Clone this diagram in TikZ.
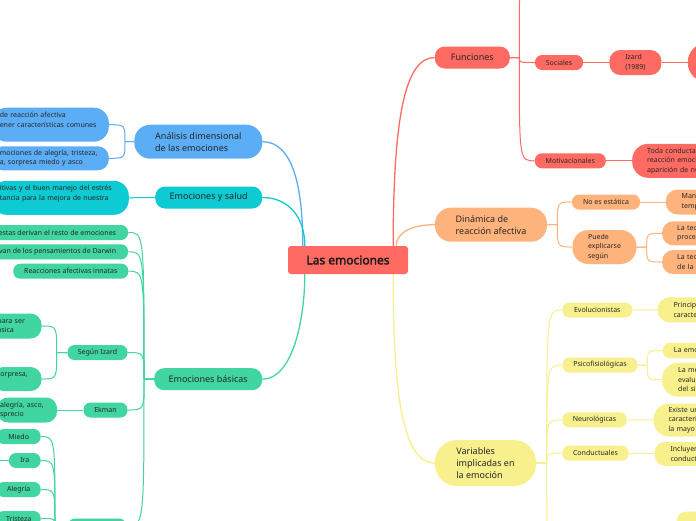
\documentclass[tikz,border=0pt]{standalone}
\usepackage{fontspec}
\setmainfont{Noto Sans}
\newfontfamily\rootfont{Noto Sans}[FakeBold=2.2]
\usepackage{xcolor}
\usepackage{tikz}
\usetikzlibrary{positioning, backgrounds}

\definecolor{redfill}{HTML}{FF6B63}
\definecolor{bluefill}{HTML}{5BADF6}
\definecolor{cyanfill}{HTML}{0DCAD3}
\definecolor{greenfill}{HTML}{40D5A1}
\definecolor{orangefill}{HTML}{FFB37C}
\definecolor{yellowfill}{HTML}{F8F08D}

\begin{document}
\begin{tikzpicture}[
    x=1pt, y=-1pt,
    rootbox/.style={rectangle, fill=redfill, rounded corners=3pt,
                    minimum width=120pt, minimum height=28pt,
                    font=\rootfont\fontsize{12}{14}\selectfont, text=black!90},
    topic/.style={rectangle, rounded corners=10pt, minimum height=21pt,
                  inner sep=2pt, align=left,
                  font=\fontsize{9}{12}\selectfont, text=black!85},
    leaf/.style={rectangle, rounded corners=7pt, minimum height=15pt,
                 inner xsep=8pt, inner ysep=1pt, align=left,
                 font=\fontsize{7}{9.5}\selectfont, text=black!85},
    cutleft/.style={leaf, anchor=east},
    cutright/.style={leaf, anchor=west, text width=60pt},
    mainlink/.style={line width=1.3pt},
    link/.style={line width=1pt},
]
\useasboundingbox (0,0) rectangle (696,520);

% Root
\node[rootbox] (root) at (348,260) {Las emociones};

% Left: Analisis dimensional
\node[topic, fill=bluefill, minimum width=128pt, minimum height=34pt, rounded corners=16pt] (ana) at (198.3,141.7) {Análisis dimensional\\de las emociones};
\node[cutleft, fill=bluefill, text width=101pt, minimum height=34pt, rounded corners=15pt] (ana1) at (109,124.7) {de reacción afectiva\\ener características comunes\\\mbox{}};
\node[cutleft, fill=bluefill, text width=101pt, minimum height=24pt, rounded corners=11pt] (ana2) at (109,158.3) {mociones de alegría, tristeza,\\a, sorpresa miedo y asco};

% Left: Emociones y salud
\node[topic, fill=cyanfill, minimum width=107pt, minimum height=22pt] (ey) at (208.7,197.5) {Emociones y salud};
\node[cutleft, fill=cyanfill, text width=121pt, minimum height=34pt, rounded corners=15pt] (eyc) at (129,197.8) {itivas y el buen manejo del estrés\\tancia para la mejora de nuestra\\\mbox{}};

% Left: Emociones basicas
\node[topic, fill=greenfill, minimum width=108pt, minimum height=22pt] (eb) at (208.2,379.2) {Emociones básicas};
\node[cutleft, fill=greenfill, inner xsep=12pt] (b1) at (128.3,232.5) {estas derivan el resto de emociones};
\node[cutleft, fill=greenfill, inner xsep=12pt] (b2) at (128.3,251.8) {van de los pensamientos de Darwin};
\node[leaf, fill=greenfill, minimum width=115pt] (b3) at (70.8,271.2) {Reacciones afectivas innatas};
\node[leaf, fill=greenfill, minimum width=60pt] (izl) at (97.5,352.5) {Según Izard};
\node[leaf, fill=greenfill, minimum width=44pt] (ek) at (105.5,410) {Ekman};
\node[leaf, fill=greenfill, minimum width=58pt] (ebx) at (97,526) {};
\node[cutleft, fill=greenfill, text width=36pt, minimum height=25pt, rounded corners=11pt] (iz1) at (41.7,326) {para ser\\ásica};
\node[cutleft, fill=greenfill, text width=33pt, minimum height=24pt, rounded corners=11pt] (iz2) at (41.7,379) {orpresa,\\\mbox{}};
\node[cutleft, fill=greenfill, inner xsep=3pt, text width=54pt, minimum height=25pt, rounded corners=11pt] (ekc) at (57.3,410) {alegría, asco,\\sprecio};
\node[leaf, fill=greenfill, minimum width=44pt] (miedo) at (18.7,436.5) {Miedo};
\node[leaf, fill=greenfill, minimum width=31.7pt] (ira) at (24.8,460.5) {Ira};
\node[leaf, fill=greenfill, minimum width=44pt] (alegria) at (18.7,489.5) {Alegría};
\node[leaf, fill=greenfill, minimum width=44pt] (tristeza) at (18.7,518.5) {Tristeza};

% Right: Funciones
\node[topic, fill=redfill, minimum width=75pt, minimum height=22pt] (fun) at (472.3,57.5) {Funciones};
\node[leaf, fill=redfill, minimum width=48pt] (soc) at (559,62.5) {Sociales};
\node[leaf, fill=redfill, minimum width=52pt, minimum height=25pt, rounded corners=11pt, right=26pt of soc] (izd) {Izard\\(1989)};
\node[leaf, fill=redfill, anchor=west, minimum width=60pt, minimum height=39pt, rounded corners=19pt, right=26pt of izd] (big) {};
\node[leaf, fill=redfill, minimum width=71pt] (mot) at (570.3,160.8) {Motivacionales};
\node[cutright, fill=redfill, inner xsep=15pt, minimum height=34pt, rounded corners=16pt, right=26pt of mot] (toda) {Toda conducta\\reacción emoci\\aparición de nu};

% Right: Dinamica de reaccion afectiva
\node[topic, fill=orangefill, minimum width=112pt, minimum height=34pt, rounded corners=16pt] (din) at (491,224.7) {Dinámica de\\reacción afectiva};
\node[leaf, fill=orangefill, minimum width=68pt] (noes) at (606,202) {No es estática};
\node[cutright, fill=orangefill, inner xsep=16pt, minimum height=25pt, rounded corners=12pt] (man) at (665.5,202) {Man\\temp};
\node[leaf, fill=orangefill, minimum width=64pt, minimum height=34pt, rounded corners=16pt] (puede) at (604.5,247) {Puede\\explicarse\\según};
\node[cutright, fill=orangefill, inner xsep=15pt, minimum height=24pt, rounded corners=11pt] (teo1) at (662,233.3) {La teo\\proce};
\node[cutright, fill=orangefill, inner xsep=15pt, minimum height=24pt, rounded corners=11pt] (teo2) at (662,262) {La teo\\de la};

% Right: Variables implicadas en la emocion
\node[topic, fill=yellowfill, minimum width=101pt, minimum height=46pt, rounded corners=22pt] (var) at (485.5,463) {Variables\\implicadas en\\la emoción};
\node[leaf, fill=yellowfill, minimum width=70pt] (evo) at (597.3,310) {Evolucionistas};
\node[cutright, fill=yellowfill, inner xsep=16pt, minimum height=25pt, rounded corners=12pt] (pri) at (657.3,309.8) {Princip\\caracte};
\node[leaf, fill=yellowfill, minimum width=75pt] (psi) at (600,365) {Psicofisiológicas};
\node[cutright, fill=yellowfill, inner xsep=11pt, minimum height=15.5pt] (emo) at (662.7,350.5) {La emo};
\node[cutright, fill=yellowfill, inner xsep=16pt, minimum height=34pt, rounded corners=16pt] (me) at (662,379.7) {La me\\evalu\\del si};
\node[leaf, fill=yellowfill, minimum width=64.4pt] (neu) at (594.5,419.8) {Neurológicas};
\node[cutright, fill=yellowfill, inner xsep=15pt, minimum height=33pt, rounded corners=16pt] (exi) at (653.3,420) {Existe un\\caracterí\\la mayo};
\node[leaf, fill=yellowfill, minimum width=66.4pt] (con) at (595.5,453.2) {Conductuales};
\node[cutright, fill=yellowfill, inner xsep=16pt, minimum height=24pt, rounded corners=11pt] (inc) at (654.3,453.8) {Incluyen\\conduct};
\node[leaf, fill=yellowfill, anchor=west, minimum width=60pt, minimum height=20pt, rounded corners=9pt] (ylast) at (676.7,521.7) {};

% Junctions and branches leaving the picture
\coordinate (jana) at (125,141.7);
\coordinate (jeb) at (144,379.2);
\coordinate (jizl) at (56.7,352.5);
\coordinate (jebx) at (55,526);
\coordinate (ira0) at (-20,460.5);
\coordinate (jfun) at (519.3,57.5);
\coordinate (fun0) at (536,-40);
\coordinate (jdin) at (557.3,224.7);
\coordinate (jpue) at (646.7,247);
\coordinate (jvar) at (546.7,463);
\coordinate (var5) at (562,560);
\coordinate (jpsi) at (647.3,365);

\begin{scope}[on background layer]
\fill[white] (0,0) rectangle (696,520);

% Links from the root
\draw[mainlink, bluefill] (ana.east) .. controls +(30,0) and +(0,-60) .. ([xshift=15pt]root.north west);
\draw[mainlink, cyanfill] (ey.east) .. controls +(25,0) and +(0,-30) .. ([xshift=17pt]root.north west);
\draw[mainlink, greenfill] (eb.east) .. controls +(30,0) and +(0,46) .. ([xshift=17pt]root.south west);
\draw[mainlink, redfill] (fun.west) .. controls +(-30,0) and +(0,-126) .. ([xshift=-15pt]root.north east);
\draw[mainlink, orangefill] (din.west) .. controls +(-25,0) and +(0,-12) .. ([xshift=-12pt]root.north east);
\draw[mainlink, yellowfill] (var.west) .. controls +(-35,0) and +(0,106) .. ([xshift=-15pt]root.south east);

% Analisis dimensional
\draw[link, bluefill] (ana.west) -- (jana) .. controls (jana |- ana1.east) .. (ana1.east);
\draw[link, bluefill] (ana.west) -- (jana) .. controls (jana |- ana2.east) .. (ana2.east);

% Emociones y salud
\draw[link, cyanfill] (ey.west) -- (eyc.east);

% Emociones basicas
\draw[link, greenfill] (eb.west) -- (jeb) .. controls (jeb |- b1.east) .. (b1.east);
\draw[link, greenfill] (eb.west) -- (jeb) .. controls (jeb |- b2.east) .. (b2.east);
\draw[link, greenfill] (eb.west) -- (jeb) .. controls (jeb |- b3.east) .. (b3.east);
\draw[link, greenfill] (eb.west) -- (jeb) .. controls (jeb |- izl.east) .. (izl.east);
\draw[link, greenfill] (eb.west) -- (jeb) .. controls (jeb |- ek.east) .. (ek.east);
\draw[link, greenfill] (eb.west) -- (jeb) .. controls (jeb |- ebx.east) .. (ebx.east);
\draw[link, greenfill] (izl.west) -- (jizl) .. controls (jizl |- iz1.east) .. (iz1.east);
\draw[link, greenfill] (izl.west) -- (jizl) .. controls (jizl |- iz2.east) .. (iz2.east);
\draw[link, greenfill] (ek.west) -- (ekc.east);
\draw[link, greenfill] (ebx.west) -- (jebx) .. controls (jebx |- miedo.east) .. (miedo.east);
\draw[link, greenfill] (ebx.west) -- (jebx) .. controls (jebx |- ira.east) .. (ira.east);
\draw[link, greenfill] (ebx.west) -- (jebx) .. controls (jebx |- alegria.east) .. (alegria.east);
\draw[link, greenfill] (ebx.west) -- (jebx) .. controls (jebx |- tristeza.east) .. (tristeza.east);
\draw[link, greenfill] (ira.west) -- (ira0);

% Funciones
\draw[link, redfill] (fun.east) -- (jfun) .. controls (jfun |- soc.west) .. (soc.west);
\draw[link, redfill] (fun.east) -- (jfun) .. controls (jfun |- mot.west) .. (mot.west);
\draw[link, redfill] (fun.east) -- (jfun) .. controls (jfun |- fun0) .. (fun0);
\draw[link, redfill] (soc) -- (izd);
\draw[link, redfill] (izd) -- (big);
\draw[link, redfill] (mot) -- (toda);

% Dinamica de reaccion afectiva
\draw[link, orangefill] (din.east) -- (jdin) .. controls (jdin |- noes.west) .. (noes.west);
\draw[link, orangefill] (din.east) -- (jdin) .. controls (jdin |- puede.west) .. (puede.west);
\draw[link, orangefill] (noes) -- (man);
\draw[link, orangefill] (puede.east) -- (jpue) .. controls (jpue |- teo1.west) .. (teo1.west);
\draw[link, orangefill] (puede.east) -- (jpue) .. controls (jpue |- teo2.west) .. (teo2.west);

% Variables implicadas en la emocion
\draw[link, yellowfill] (var.east) -- (jvar) .. controls (jvar |- evo.west) .. (evo.west);
\draw[link, yellowfill] (var.east) -- (jvar) .. controls (jvar |- psi.west) .. (psi.west);
\draw[link, yellowfill] (var.east) -- (jvar) .. controls (jvar |- neu.west) .. (neu.west);
\draw[link, yellowfill] (var.east) -- (jvar) .. controls (jvar |- con.west) .. (con.west);
\draw[link, yellowfill] (var.east) -- (jvar) .. controls (jvar |- var5) .. (var5);
\draw[link, yellowfill] (evo) -- (pri);
\draw[link, yellowfill] (psi.east) -- (jpsi) .. controls (jpsi |- emo.west) .. (emo.west);
\draw[link, yellowfill] (psi.east) -- (jpsi) .. controls (jpsi |- me.west) .. (me.west);
\draw[link, yellowfill] (neu) -- (exi);
\draw[link, yellowfill] (con) -- (inc);
\end{scope}

\end{tikzpicture}
\end{document}
